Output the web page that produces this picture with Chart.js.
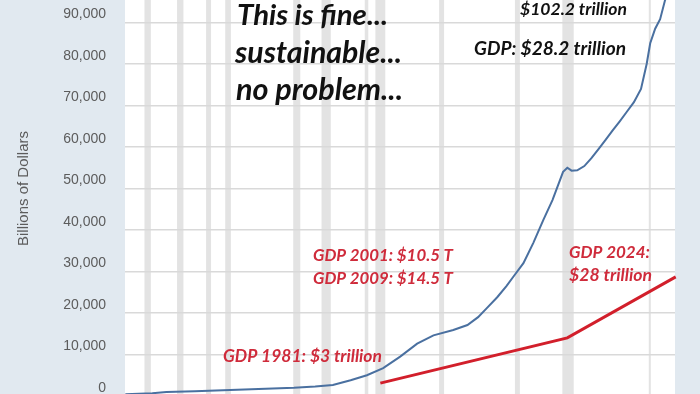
<!DOCTYPE html>
<html>
<head>
<meta charset="utf-8">
<script src="https://cdn.jsdelivr.net/npm/chart.js@4"></script>
<style>
  html, body { margin: 0; padding: 0; width: 700px; height: 394px; overflow: hidden; background: #e1e9f0; }
  #wrap { position: absolute; left: 0; top: -30px; width: 700px; height: 440px; }
</style>
</head>
<body>
<div id="wrap"><canvas id="chart"></canvas></div>
<script>
// Dívida total (bilhões de US$)
const debtYears = [1946.2, 1950, 1952, 1956, 1960, 1965, 1970, 1973, 1975.5, 1978, 1980.3, 1982.6, 1985, 1987.4, 1989.7,
  1992.5, 1994.5, 1996, 1997.3, 1998.7, 2000, 2001, 2002.4, 2003.8, 2005.2, 2006.5, 2008, 2008.6, 2009.2, 2010,
  2011, 2012, 2013, 2014, 2015, 2016, 2017, 2018, 2019, 2019.8, 2020.3, 2021, 2021.7, 2022.4, 2023, 2023.8];
const debtValues = [450, 650, 950, 1150, 1400, 1700, 2000, 2300, 2650, 3800, 5000, 6700, 9500, 12600, 14600,
  15900, 17100, 19000, 21300, 23800, 26500, 28800, 32000, 36900, 42400, 47200, 54000, 55000, 54300, 54400,
  55400, 57300, 59500, 61700, 64000, 66200, 68500, 70800, 74000, 80000, 85000, 88500, 90800, 95400, 98500, 102200];

// Linha vermelha do PIB (desenhada à mão no original)
const gdpYears = [1982.2, 2008.6, 2023.9];
const gdpValues = [3100, 14000, 28700];

// Recessões (faixas cinza)
const recessionStart = [1948.9, 1953.5, 1957.6, 1960.3, 1969.9, 1973.9, 1980.0, 1981.5, 1990.5, 2001.2, 2007.9, 2020.1];
const recessionEnd   = [1949.8, 1954.4, 1958.3, 1961.1, 1970.9, 1975.2, 1980.5, 1982.9, 1991.2, 2001.9, 2009.5, 2020.3];

const yTicks = [0, 10000, 20000, 30000, 40000, 50000, 60000, 70000, 80000, 90000, 100000];

const BLACK = '#111111', RED = '#cf2b3b';
const notes = [
  { text: 'This is fine...', x: 237, y: 25, w: 151, color: BLACK },
  { text: 'sustainable...', x: 235, y: 63, w: 167, color: BLACK },
  { text: 'no problem...', x: 236, y: 100, w: 167, color: BLACK },
  { text: '$102.2 trillion', x: 520, y: 15, w: 107, color: BLACK },
  { text: 'GDP: $28.2 trillion', x: 474, y: 55, w: 152, color: BLACK },
  { text: 'GDP 2001: $10.5 T', x: 313, y: 261, w: 140, color: RED },
  { text: 'GDP 2009: $14.5 T', x: 313, y: 284, w: 140, color: RED },
  { text: 'GDP 1981: $3 trillion', x: 223, y: 362, w: 159, color: RED },
  { text: 'GDP 2024:', x: 569, y: 258, w: 81, color: RED },
  { text: '$28 trillion', x: 569, y: 281, w: 83, color: RED }
];
const OFFSET_Y = 30; // o canvas começa 30px acima da página

// Fundo branco da área do gráfico + faixas de recessão
const plotBg = {
  id: 'plotBg',
  beforeDraw(chart) {
    const { ctx, chartArea: a, scales: { x } } = chart;
    ctx.save();
    ctx.fillStyle = '#ffffff';
    ctx.fillRect(a.left, a.top, a.right - a.left, a.bottom - a.top);
    ctx.fillStyle = '#e3e3e3';
    recessionStart.forEach((s, i) => {
      const x0 = x.getPixelForValue(s);
      const x1 = x.getPixelForValue(recessionEnd[i]);
      ctx.fillRect(x0, a.top, Math.max(x1 - x0, 2), a.bottom - a.top);
    });
    ctx.restore();
  }
};

// Textos das anotações
const notesPlugin = {
  id: 'notes',
  afterDraw(chart) {
    const ctx = chart.ctx;
    ctx.save();
    ctx.textBaseline = 'alphabetic';
    ctx.textAlign = 'left';
    notes.forEach(n => {
      ctx.font = 'italic bold 20px Lato';
      const size = 20 * n.w / ctx.measureText(n.text).width;
      ctx.font = `italic bold ${size.toFixed(2)}px Lato`;
      ctx.fillStyle = n.color;
      ctx.fillText(n.text, n.x, n.y + OFFSET_Y);
    });
    ctx.restore();
  }
};

new Chart(document.getElementById('chart'), {
  type: 'line',
  data: {
    datasets: [
      {
        label: 'GDP',
        data: gdpYears.map((yr, i) => ({ x: yr, y: gdpValues[i] })),
        borderColor: '#d21f2b',
        borderWidth: 3,
        pointRadius: 0,
        tension: 0,
        clip: false,
        order: 0
      },
      {
        label: 'Debt',
        data: debtYears.map((yr, i) => ({ x: yr, y: debtValues[i] })),
        borderColor: '#4a70a0',
        borderWidth: 2,
        pointRadius: 0,
        tension: 0,
        order: 1
      }
    ]
  },
  options: {
    responsive: true,
    maintainAspectRatio: false,
    animation: false,
    layout: { padding: { top: 11, right: 25, bottom: 14, left: 0 } },
    plugins: { legend: { display: false }, tooltip: { enabled: false } },
    scales: {
      x: { type: 'linear', min: 1946.15, max: 2023.8, display: false },
      y: {
        min: 0,
        max: 100000,
        afterFit(s) { s.width = 125; s.paddingTop = 0; s.paddingBottom = 0; },
        afterBuildTicks(s) { s.ticks = yTicks.map(v => ({ value: v })); },
        ticks: {
          padding: 19,
          labelOffset: -8,
          color: '#5c5c5c',
          font: { family: 'Liberation Sans, Arial', size: 14 },
          callback: v => v.toLocaleString('en-US')
        },
        grid: { color: '#d9d9d9', lineWidth: 1.5, drawTicks: false },
        border: { display: false },
        title: {
          display: true,
          text: 'Billions of Dollars',
          color: '#5c5c5c',
          font: { family: 'Liberation Sans, Arial', size: 15 },
          padding: { top: 15, bottom: 0 }
        }
      }
    }
  },
  plugins: [plotBg, notesPlugin]
});
</script>
</body>
</html>
